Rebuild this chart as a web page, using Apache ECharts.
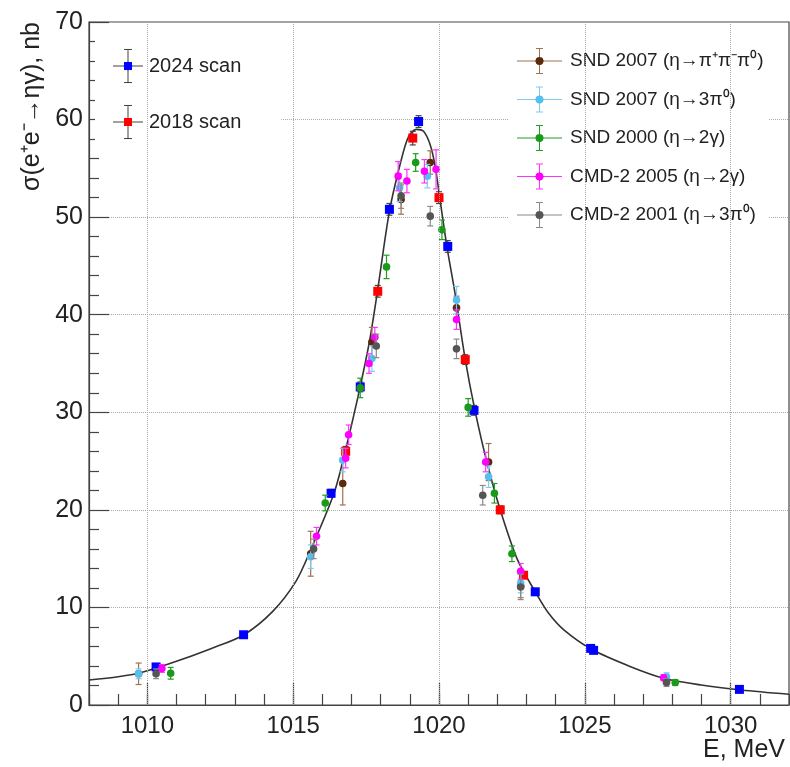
<!DOCTYPE html>
<html>
<head>
<meta charset="utf-8">
<script src="https://cdn.jsdelivr.net/npm/echarts@6/dist/echarts.min.js"></script>
<style>
html,body{margin:0;padding:0;background:#fff;}
#c{width:790px;height:767px;}
</style>
</head>
<body>
<div id="c"></div>
<script>
// ---- Data ----
const xTickValues = [1010, 1015, 1020, 1025, 1030];

const fitE     = [1008.0, 1009.0, 1009.7, 1010.8, 1012.2, 1013.3, 1014.3, 1015.1, 1015.6, 1016.4, 1016.8, 1017.2, 1017.6, 1017.9, 1018.3, 1018.7, 1018.95, 1019.22, 1019.47, 1019.7, 1019.87, 1020.02, 1020.27, 1020.56, 1020.9, 1021.24, 1021.65, 1022.1, 1022.69, 1023.31, 1023.76, 1024.28, 1025.23, 1026.57, 1027.71, 1028.99, 1030.36, 1032.0];
const fitSigma = [2.56, 2.9, 3.25, 4.27, 5.8, 7.18, 9.6, 12.7, 15.9, 21.7, 26.2, 31.3, 37.0, 42.6, 50.6, 55.8, 58.2, 59.0, 58.8, 57.4, 55.2, 52.1, 47.0, 42.0, 35.4, 30.1, 24.8, 20.0, 14.9, 11.56, 9.4, 7.7, 5.71, 3.93, 2.74, 2.05, 1.54, 1.1];

const scan2024E     = [1010.3, 1013.3, 1016.3, 1017.3, 1018.3, 1019.3, 1020.3, 1021.2, 1023.3, 1025.2, 1025.3, 1030.3];
const scan2024Sigma = [3.9, 7.2, 21.7, 32.6, 50.8, 59.8, 47.0, 30.2, 11.6, 5.8, 5.6, 1.6];
const scan2024Err   = [0.2, 0.3, 0.4, 0.5, 0.6, 0.6, 0.6, 0.5, 0.3, 0.2, 0.2, 0.1];

const scan2018E     = [1016.8, 1017.9, 1019.1, 1020.0, 1020.9, 1022.1, 1022.9];
const scan2018Sigma = [26.0, 42.4, 58.1, 52.0, 35.4, 20.0, 13.3];
const scan2018Err   = [0.5, 0.6, 0.7, 0.6, 0.5, 0.4, 0.3];

const snd07pppE     = [1009.7, 1015.6, 1016.7, 1017.7, 1018.7, 1019.7, 1020.6, 1021.7, 1022.8, 1027.8];
const snd07pppSigma = [3.2, 15.5, 22.7, 37.2, 51.8, 55.6, 40.7, 24.9, 12.2, 2.5];
const snd07pppErr   = [1.1, 2.3, 2.2, 1.5, 1.5, 1.2, 1.2, 1.9, 1.2, 0.4];

const snd073piE     = [1009.7, 1015.6, 1016.7, 1017.7, 1018.65, 1019.6, 1020.6, 1021.7, 1022.8, 1027.8];
const snd073piSigma = [3.2, 15.2, 25.1, 35.5, 53.0, 54.2, 41.5, 23.4, 12.5, 2.9];
const snd073piErr   = [0.5, 1.2, 1.2, 1.3, 1.4, 1.2, 1.4, 1.1, 1.0, 0.4];

const snd00E     = [1010.8, 1016.1, 1017.3, 1018.2, 1019.2, 1020.1, 1021.0, 1021.9, 1022.5, 1028.1];
const snd00Sigma = [3.25, 20.7, 32.5, 44.9, 55.6, 48.7, 30.5, 21.7, 15.5, 2.3];
const snd00Err   = [0.6, 0.8, 1.0, 1.2, 0.9, 1.0, 0.9, 1.0, 0.8, 0.3];

const cmd05E     = [1010.5, 1015.8, 1016.8, 1016.9, 1017.6, 1017.8, 1018.6, 1018.9, 1019.5, 1019.9, 1020.6, 1021.6, 1022.8, 1027.7];
const cmd05Sigma = [3.75, 17.3, 25.3, 27.7, 35.0, 37.7, 54.2, 53.7, 54.7, 54.9, 39.5, 24.9, 13.7, 2.8];
const cmd05Err   = [0.4, 0.9, 1.0, 1.0, 1.0, 1.0, 1.5, 1.2, 1.2, 2.0, 1.0, 1.0, 0.8, 0.3];

const cmd01E     = [1010.3, 1015.7, 1017.85, 1018.7, 1019.7, 1020.6, 1021.5, 1022.8, 1027.8];
const cmd01Sigma = [3.2, 16.0, 36.8, 52.2, 50.1, 36.5, 21.5, 12.1, 2.3];
const cmd01Err   = [0.5, 1.0, 1.2, 1.3, 1.0, 1.0, 1.0, 1.3, 0.4];

// ---- Chart ----
const FONT = '"Liberation Sans", Arial, Helvetica, sans-serif';
const zip3 = (a, b, c) => a.map((v, i) => [v, b[i], c[i]]);

function makeRender(barColor, markColor, shape) {
  return function (params, api) {
    const x = api.value(0), y = api.value(1), e = api.value(2);
    const c = api.coord([x, y]);
    const lo = api.coord([x, y - e]);
    const hi = api.coord([x, y + e]);
    const st = { stroke: barColor, lineWidth: 1.2 };
    const children = [
      { type: 'line', shape: { x1: c[0], y1: lo[1], x2: c[0], y2: hi[1] }, style: st },
      { type: 'line', shape: { x1: c[0] - 3, y1: lo[1], x2: c[0] + 3, y2: lo[1] }, style: st },
      { type: 'line', shape: { x1: c[0] - 3, y1: hi[1], x2: c[0] + 3, y2: hi[1] }, style: st }
    ];
    if (shape === 'square') {
      children.push({ type: 'rect', shape: { x: c[0] - 4.5, y: c[1] - 4.5, width: 9, height: 9 }, style: { fill: markColor } });
    } else {
      children.push({ type: 'circle', shape: { cx: c[0], cy: c[1], r: 3.8 }, style: { fill: markColor } });
    }
    return { type: 'group', children: children };
  };
}

const datasets = [
  { name: '2024 scan', bar: '#444', mark: '#0000ff', shape: 'square', d: zip3(scan2024E, scan2024Sigma, scan2024Err) },
  { name: '2018 scan', bar: '#444', mark: '#ff0000', shape: 'square', d: zip3(scan2018E, scan2018Sigma, scan2018Err) },
  { name: 'SND 2007 (η→π⁺π⁻π⁰)', bar: '#a0724e', mark: '#5a2a0a', shape: 'circle', d: zip3(snd07pppE, snd07pppSigma, snd07pppErr) },
  { name: 'SND 2007 (η→3π⁰)', bar: '#7cccf4', mark: '#56bff0', shape: 'circle', d: zip3(snd073piE, snd073piSigma, snd073piErr) },
  { name: 'SND 2000 (η→2γ)', bar: '#1f9f1f', mark: '#1a9a1a', shape: 'circle', d: zip3(snd00E, snd00Sigma, snd00Err) },
  { name: 'CMD-2 2005 (η→2γ)', bar: '#ff33ff', mark: '#ff00ff', shape: 'circle', d: zip3(cmd05E, cmd05Sigma, cmd05Err) },
  { name: 'CMD-2 2001 (η→3π⁰)', bar: '#8a8a8a', mark: '#555555', shape: 'circle', d: zip3(cmd01E, cmd01Sigma, cmd01Err) }
];

function radial(inner, outer, off) {
  return { type: 'radial', x: 0.5, y: 0.5, r: 0.5, colorStops: [
    { offset: 0, color: inner }, { offset: off, color: inner },
    { offset: off, color: outer }, { offset: 1, color: outer }] };
}
const iconSquare = 'path://M0,16.5H30V17.5H0Z M14.5,0H15.5V34H14.5Z M11,0H19V1H11Z M11,33H19V34H11Z M11,13H19V21H11Z';
const iconCircle = 'path://M0,12.5H45V13.5H0Z M22,0H23V26H22Z M19,0H26V1H19Z M19,25H26V26H19Z M18.5,13A4,4 0 1 1 26.5,13A4,4 0 1 1 18.5,13Z';

const legendLeft = datasets.slice(0, 2).map(s => ({ name: s.name, icon: iconSquare, itemStyle: { color: radial(s.mark, s.bar, 0.36) } }));
const legendRight = datasets.slice(2).map(s => ({ name: s.name, icon: iconCircle, itemStyle: { color: radial(s.mark, s.bar, 0.32) } }));

const series = [{
  type: 'line',
  name: 'fit',
  data: fitE.map((v, i) => [v, fitSigma[i]]),
  smooth: 0.3,
  showSymbol: false,
  silent: true,
  z: 2,
  lineStyle: { color: '#333', width: 1.6 },
  markLine: {
    silent: true, symbol: ['none', 'none'], label: { show: false },
    lineStyle: { color: '#aaa', type: 'dotted', width: 1 },
    emphasis: { disabled: true },
    data: xTickValues.map(v => ({ xAxis: v }))
  }
}].concat(datasets.map(s => ({
  type: 'custom',
  name: s.name,
  data: s.d,
  z: 3,
  encode: { x: 0, y: 1 },
  itemStyle: { color: s.mark },
  renderItem: makeRender(s.bar, s.mark, s.shape)
})));

const chart = echarts.init(document.getElementById('c'), null, { renderer: 'canvas' });
chart.setOption({
  animation: false,
  backgroundColor: '#fff',
  textStyle: { fontFamily: FONT },
  grid: { left: 89, right: 1, top: 22, bottom: 62, show: true, borderColor: '#444', borderWidth: 1.2, backgroundColor: 'transparent' },
  legend: [{
    data: legendLeft, orient: 'vertical', left: 95, top: 37,
    itemWidth: 32, itemHeight: 34, itemGap: 22,
    padding: [12, 40, 11, 18], backgroundColor: '#fff',
    textStyle: { fontSize: 20, color: '#222', fontFamily: FONT },
    selectedMode: false
  }, {
    data: legendRight, orient: 'vertical', left: 508, top: 37,
    itemWidth: 51, itemHeight: 26, itemGap: 12.5,
    padding: [11, 5, 5, 9], backgroundColor: '#fff',
    textStyle: { fontSize: 19, color: '#222', fontFamily: FONT },
    selectedMode: false
  }],
  xAxis: [{
    type: 'value', min: 1008, max: 1032,
    axisLine: { show: true, onZero: false, lineStyle: { color: '#444', width: 1.2 } },
    axisTick: { show: true, inside: true, length: 22, customValues: xTickValues, lineStyle: { color: '#444', width: 1.2 } },
    axisLabel: { show: true, customValues: xTickValues, formatter: v => String(v), fontSize: 24, color: '#222', margin: 9, fontFamily: FONT },
    splitLine: { show: false },
    name: 'E, MeV', nameLocation: 'end', nameGap: -4,
    nameTextStyle: { fontSize: 25, color: '#222', align: 'right', verticalAlign: 'top', padding: [33, 0, 0, 0], fontFamily: FONT }
  }, {
    type: 'value', min: 1008, max: 1032, interval: 1, position: 'bottom',
    axisLine: { show: false },
    axisTick: { show: true, inside: true, length: 11, lineStyle: { color: '#444', width: 1.2 } },
    axisLabel: { show: false },
    splitLine: { show: false }
  }],
  yAxis: {
    type: 'value', min: 0, max: 70, interval: 10,
    axisLine: { show: true, onZero: false, lineStyle: { color: '#444', width: 1.2 } },
    axisTick: { show: true, inside: true, length: 20, lineStyle: { color: '#444', width: 1.2 } },
    minorTick: { show: true, splitNumber: 5, length: 10, lineStyle: { color: '#444', width: 1.2 } },
    axisLabel: { fontSize: 25, color: '#222', margin: 6, fontFamily: FONT },
    splitLine: { show: true, lineStyle: { color: '#aaa', type: 'dotted', width: 1 } },
    name: 'σ(e⁺e⁻→ηγ), nb', nameLocation: 'end', nameGap: 0, nameRotate: 90,
    nameTextStyle: { fontSize: 25, color: '#222', align: 'right', verticalAlign: 'bottom', padding: [0, 0, 44, 0], fontFamily: FONT }
  },
  series: series
});
</script>
</body>
</html>
